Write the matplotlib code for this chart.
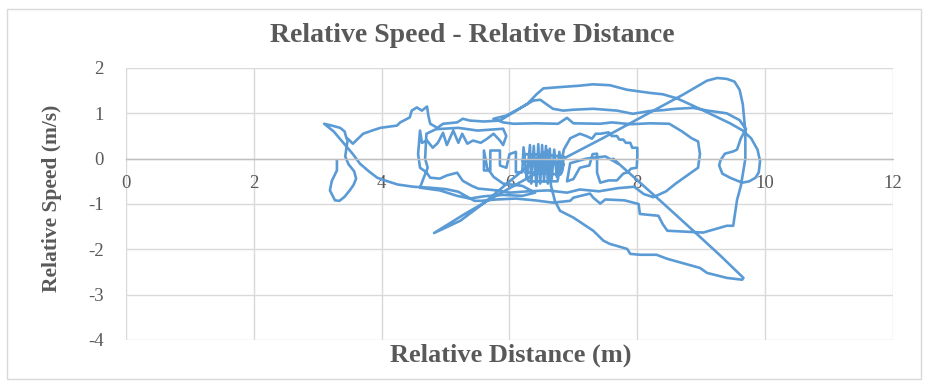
import matplotlib
matplotlib.use("Agg")
import matplotlib.pyplot as plt
from matplotlib.patches import Rectangle

# ---- data: trajectory, as consecutive segments ----
seg_left_loop = [(3.30,-0.06),(3.30,-0.26),(3.22,-0.49),(3.19,-0.70),(3.27,-0.92),(3.34,-0.93),
    (3.42,-0.84),(3.50,-0.70),(3.56,-0.58),(3.60,-0.44),(3.57,-0.28),(3.48,-0.12),(3.43,0.05),
    (3.45,0.25),(3.47,0.44),(3.55,0.33),(3.60,0.40),(3.71,0.55),(3.85,0.62),(3.98,0.68),(4.24,0.73),
    (4.29,0.80),(4.44,0.91),(4.47,1.06),(4.55,1.13),(4.63,1.06),(4.71,1.15),(4.73,0.95),(4.76,0.77),
    (4.87,0.68),(4.96,0.77),(5.18,0.80),(5.27,0.88),(5.38,0.84),(5.60,0.82),(5.85,0.84)]
seg_ellipse = [(6.06,1.02),(6.28,1.21),(6.43,1.43),(6.53,1.55),(6.80,1.58),(7.10,1.61),(7.30,1.64),
    (7.57,1.62),(7.84,1.52),(8.04,1.48),(8.20,1.45),(8.40,1.42),(8.62,1.33),(8.90,1.15),(9.20,0.95),
    (9.45,0.78),(9.65,0.62),(9.78,0.45),(9.88,0.20),(9.92,-0.05),(9.90,-0.30),(9.85,-0.42),
    (9.75,-0.50),(9.64,-0.53),(9.45,-0.42),(9.33,-0.33),(9.28,-0.15),(9.30,-0.04),(9.37,0.11),
    (9.50,0.16),(9.56,0.20),(9.62,0.45),(9.70,0.65)]
seg_mid_loop = [(9.60,0.85),(9.40,1.00),(9.10,1.06),(8.87,1.12),(8.60,1.10),(8.40,1.07),(8.19,1.05),
    (7.93,0.99),(7.68,1.06),(7.31,1.10),(7.00,1.08),(6.84,1.06),(6.68,1.10),(6.48,1.30),(6.37,1.28),
    (6.15,1.10),(5.95,0.95),(5.75,0.88)]
seg_upper_band = [(5.90,0.80),(6.06,0.77),(6.40,0.78),(6.76,0.77),(6.90,0.90),(7.00,0.78),(7.42,0.77),
    (7.60,0.80),(7.90,0.76),(8.20,0.78),(8.50,0.77)]
seg_octagon = [(8.70,0.60),(8.85,0.45),(8.95,0.38),(8.98,0.10),(8.95,-0.20),(8.80,-0.35),(8.60,-0.55),
    (8.45,-0.72),(8.25,-0.85),(8.10,-0.78),(7.95,-0.62)]
seg_lower_band = [(7.70,-0.65),(7.40,-0.72),(7.10,-0.68),(6.90,-0.75),(6.60,-0.70),(6.30,-0.72),
    (6.00,-0.75),(5.80,-0.70),(5.51,-0.66),(5.41,-0.60),(5.27,-0.49),(5.18,-0.31),(5.02,-0.37),
    (4.91,-0.44),(4.76,-0.42),(4.70,-0.30),(4.60,-0.20),(4.57,0.10),(4.60,0.62),(4.63,0.35)]
seg_jagged = [(4.71,0.40),(4.80,0.24),(4.88,0.35),(4.96,0.57),(5.02,0.30),(5.12,0.62),(5.20,0.35),
    (5.26,0.55),(5.34,0.33),(5.43,0.40),(5.55,0.35),(5.65,0.44),(5.75,0.55),(5.85,0.40),(5.90,0.30)]
seg_extra_left = [(5.95,0.50),(5.90,0.66),(5.50,0.62),(5.20,0.68),(4.85,0.65),(4.70,0.55),(4.68,0.00),
    (4.72,-0.20),(4.65,-0.45),(4.60,-0.64),(4.91,-0.70),(5.18,-0.82),(5.38,-0.88),(5.60,-0.83),
    (5.90,-0.80),(6.20,-0.82),(6.40,-0.75),(6.20,-0.60),(5.90,-0.55),(5.75,-0.40),(5.65,-0.20)]
seg_stubs = [(5.60,0.18),(5.60,-0.26),(5.70,-0.26),(5.70,0.18),(5.85,0.18),(5.85,-0.15),(5.95,-0.20),
    (6.00,0.10),(6.10,0.15),(6.10,-0.30),(6.20,-0.30)]
seg_cluster = [(6.22,0.25),(6.27,-0.45),(6.32,0.30),(6.34,-0.55),(6.38,0.28),(6.42,-0.60),(6.45,0.32),
    (6.48,-0.55),(6.51,0.30),(6.54,-0.50),(6.57,0.28),(6.60,-0.55),(6.63,0.22),(6.66,-0.45),(6.70,0.20),
    (6.74,-0.40),(6.78,0.15),(6.82,-0.30),(6.85,0.05),(6.25,0.10),(6.20,-0.05),(6.85,-0.12),(6.80,-0.35),
    (6.25,-0.30),(6.30,-0.50),(6.75,-0.50),(6.85,0.20)]
seg_inner = [(6.95,0.45),(7.10,0.55),(7.20,0.50),(7.29,0.44),(7.35,0.55),(7.42,0.55),(7.55,0.58),
    (7.60,0.50),(7.68,0.50),(7.72,0.42),(7.78,0.42),(7.82,0.35),(7.89,0.35),(7.92,0.24),(8.00,0.24),
    (8.00,0.05),(7.99,-0.20),(7.90,-0.22),(7.85,-0.30),(7.78,-0.33),(7.72,-0.42),(7.68,-0.48),
    (7.55,-0.48),(7.42,-0.53),(7.37,-0.31),(7.37,0.11),(7.30,0.10),(7.25,-0.15),(7.10,-0.20),
    (7.00,-0.45),(6.90,-0.50),(6.95,-0.10),(7.20,0.00),(7.50,0.05),(7.70,-0.11),(7.62,0.00)]
seg_straight = [(7.90,-0.35),(8.40,-0.98),(8.93,-1.66),(9.30,-2.14),(9.66,-2.63)]
seg_lower_loop = [(9.64,-2.67),(9.40,-2.63),(9.09,-2.52),(8.98,-2.41),(8.47,-2.21),(8.30,-2.12),
    (8.04,-2.12),(7.89,-2.10),(7.84,-1.99),(7.57,-1.88),(7.47,-1.81),(7.31,-1.59),(7.15,-1.44),
    (7.00,-1.30),(6.79,-1.15),(6.71,-0.93),(6.65,-0.60),(6.62,-0.20),(6.59,0.18)]
seg_diag_down = [(6.30,-0.15),(5.96,-0.55),(5.60,-0.98),(5.23,-1.37),(4.82,-1.64)]
seg_diag_up = [(5.30,-1.22),(5.85,-0.77),(6.60,-0.18),(7.47,0.46),(8.20,1.02),(8.70,1.40),(9.09,1.72),
    (9.25,1.78),(9.40,1.76),(9.52,1.70),(9.60,1.52)]
seg_peak_right = [(9.65,1.20),(9.69,0.60),(9.69,0.00),(9.62,-0.60),(9.56,-0.91),(9.50,-1.48),
    (9.40,-1.48),(9.30,-1.52),(9.03,-1.63),(8.47,-1.59),(8.40,-1.45),(8.33,-1.26),(8.04,-1.22),
    (8.02,-1.00),(7.80,-0.92),(7.50,-0.90),(7.42,-0.99),(7.31,-0.86),(7.26,-0.77),(7.00,-0.86),
    (6.95,-0.93),(6.68,-0.97),(6.40,-0.92),(6.10,-0.88),(5.80,-0.90),(5.55,-0.93),(5.45,-0.93)]
seg_tail = [(5.35,-0.85),(5.20,-0.73),(5.00,-0.67),(4.75,-0.64),(4.50,-0.62),(4.25,-0.57),(4.05,-0.48),
    (3.93,-0.42),(3.80,-0.28),(3.66,-0.11),(3.55,0.10),(3.40,0.35),(3.25,0.60),(3.10,0.77),(3.22,0.73),
    (3.35,0.68),(3.42,0.60),(3.45,0.45)]

segments = [seg_left_loop, seg_ellipse, seg_mid_loop, seg_upper_band, seg_octagon, seg_lower_band,
            seg_jagged, seg_extra_left, seg_stubs, seg_cluster, seg_inner, seg_straight,
            seg_lower_loop, seg_diag_down, seg_diag_up, seg_peak_right, seg_tail]

x_ticks = [0, 2, 4, 6, 8, 10, 12]
y_ticks = [-4, -3, -2, -1, 0, 1, 2]
title = "Relative Speed - Relative Distance"
x_label = "Relative Distance (m)"
y_label = "Relative Speed (m/s)"

rel_distance = [p[0] for s in segments for p in s]
rel_speed = [p[1] for s in segments for p in s]

# ---- figure ----
plt.rcParams['font.family'] = ['Liberation Serif', 'DejaVu Serif']
plt.rcParams['axes.unicode_minus'] = False
fig = plt.figure(figsize=(9.28, 3.84), dpi=100)
fig.patches.append(Rectangle((7/928, 5/384), 914/928, 370/384, transform=fig.transFigure,
                             fill=False, edgecolor='#D9D9D9', linewidth=1.0))
ax = fig.add_axes([126/928, 1-340/384, (893-126)/928, (340-68)/384])
ax.plot(rel_distance, rel_speed, color='#5B9BD5', linewidth=1.9, solid_joinstyle='round')

ax.set_xlim(0, 12)
ax.set_ylim(-4, 2)
ax.set_xticks(x_ticks)
ax.set_yticks(y_ticks)
ax.grid(True, color='#D9D9D9', linewidth=1.0)
ax.set_axisbelow(True)
for sp in ['top', 'right', 'left']:
    ax.spines[sp].set_visible(False)
ax.spines['bottom'].set_position(('data', 0))
ax.spines['bottom'].set_color('#BFBFBF')
ax.spines['bottom'].set_linewidth(1.0)
ax.tick_params(axis='both', length=0, labelsize=13.5, labelcolor='#595959')
ax.tick_params(axis='x', pad=12)
ax.tick_params(axis='y', pad=16)

fig.text(472/928, 1-35/384, title, ha='center', va='center', fontsize=20,
         fontweight='bold', color='#595959')
fig.text(511/928, 1-355/384, x_label, ha='center', va='center', fontsize=19,
         fontweight='bold', color='#595959')
fig.text(52/928, 1-198/384, y_label, ha='center', va='center', rotation=90, fontsize=15.5,
         fontweight='bold', color='#595959')

fig.savefig('out.png', dpi=100)
